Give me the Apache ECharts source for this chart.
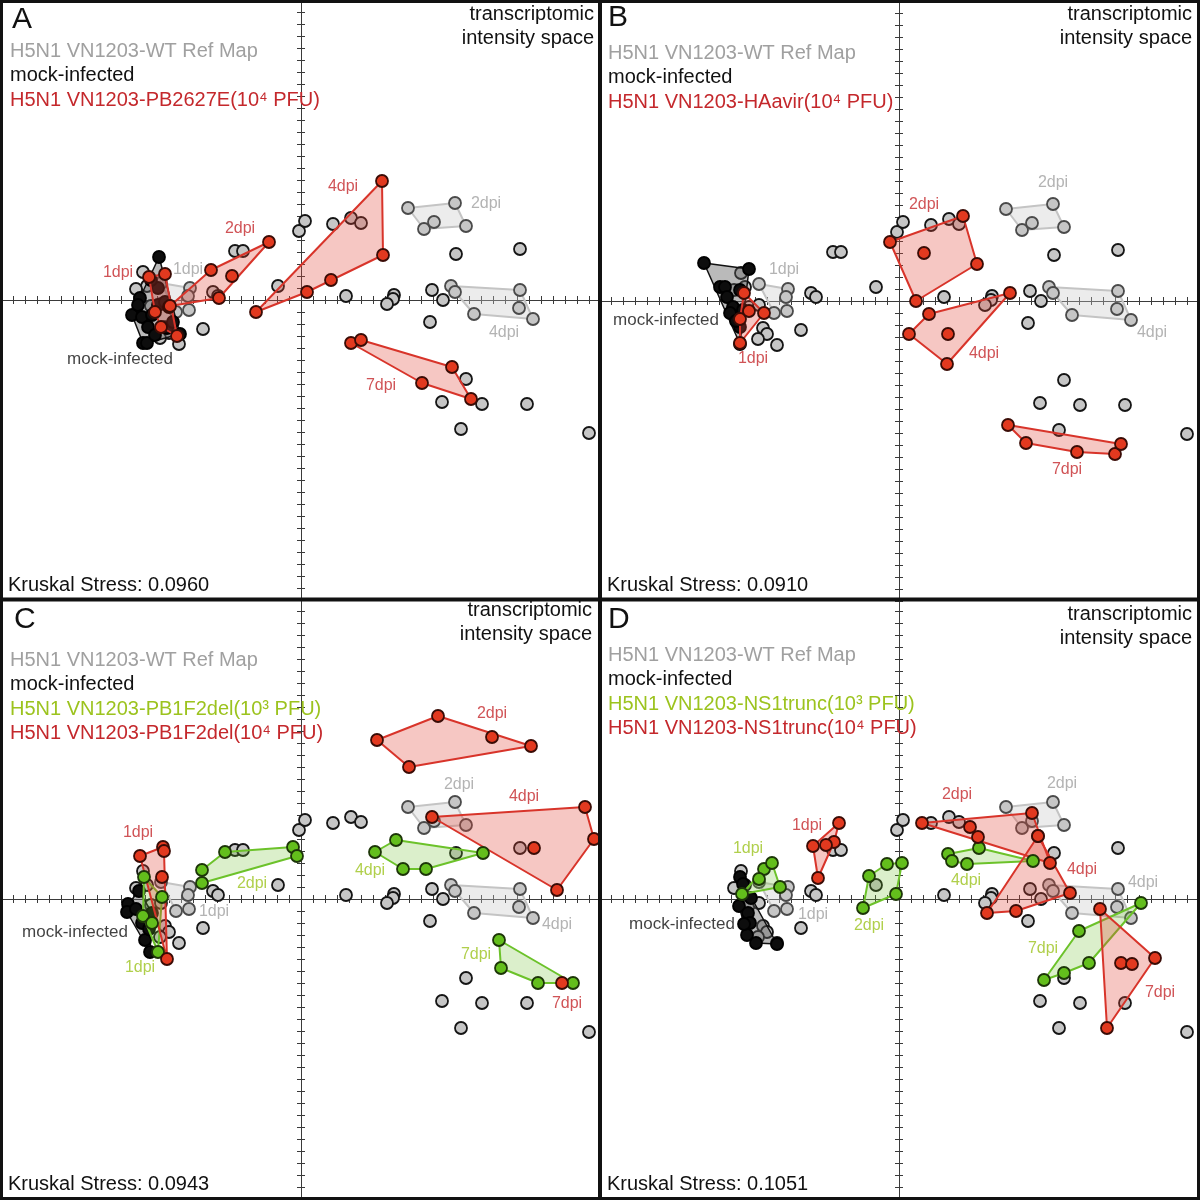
<!DOCTYPE html>
<html><head><meta charset="utf-8">
<script src="https://cdn.jsdelivr.net/npm/echarts@6/dist/echarts.min.js"></script>
<style>html,body{margin:0;padding:0;background:#fff}#c{width:1200px;height:1200px}</style>
</head><body><div id="c"></div>
<script>
// ---- Reference map (H5N1 VN1203-WT), shared by all panels ----
const ref1dpi = [[-140,17],[-111,12],[-113,4],[-112,-10],[-125,-12]];
const ref2dpi = [[107,92],[154,97],[165,74],[123,71],[133,78]];
const ref4dpi = [[150,14],[154,8],[219,10],[232,-19],[173,-14],[218,-8]];
const refOther = [[-158,28],[-154,14],[-165,11],[-150,-6],[-140,-4],[-136,-27],[-132,-33],[-141,-38],[-122,-44],[-98,-29],[-88,8],[-83,4],[-66,49],[-58,49],[-23,14],[-2,69],[4,79],[32,76],[50,82],[60,77],[155,46],[219,51],[45,4],[93,5],[92,1],[86,-4],[131,10],[142,0],[129,-22],[165,-79],[141,-102],[181,-104],[226,-104],[160,-129],[288,-133]];

// ---- Panel A ----
const mockA = [[-142,43],[-161,2],[-169,-15],[-159,-17],[-149,-15],[-153,-27],[-158,-43],[-154,-43],[-134,-28],[-121,-34],[-143,12],[-143,-5],[-150,20],[-136,-2],[-163,-5],[-146,-35],[-128,-22]];
const redA1 = [[-152,23],[-136,26],[-132,-7],[-124,-36],[-140,-27],[-146,-12]];
const redA2 = [[-131,-6],[-90,30],[-32,58],[-69,24],[-82,2]];
const redA4 = [[-45,-12],[6,8],[30,20],[82,45],[81,119]];
const redA7 = [[50,-43],[60,-40],[151,-67],[170,-99],[121,-83]];

// ---- Panel B ----
const mockB = [[-195,38],[-150,32],[-159,-43],[-179,14],[-174,14],[-172,4],[-166,-6],[-169,-12],[-159,11],[-156,-9],[-159,-26],[-163,-20]];
const redB1 = [[-155,8],[-135,-12],[-159,-42],[-159,-18],[-150,-10]];
const redB2 = [[-9,59],[64,85],[78,37],[17,0],[25,48]];
const redB4 = [[111,8],[30,-13],[10,-33],[48,-63],[49,-33]];
const redB7 = [[109,-124],[127,-142],[178,-151],[216,-153],[222,-143]];

// ---- Panel C ----
const mockC = [[-173,-5],[-174,-13],[-159,-24],[-156,-41],[-151,-53],[-149,-14],[-162,8],[-152,-30],[-165,-10]];
const redC1 = [[-161,43],[-138,52],[-137,48],[-139,22],[-134,-60]];
const greenC1 = [[-157,22],[-139,2],[-158,-17],[-149,-24],[-143,-53]];
const greenC2 = [[-99,29],[-99,16],[-76,47],[-8,52],[-4,43]];
const redC2 = [[76,159],[137,183],[191,162],[230,153],[108,132]];
const redC4 = [[131,82],[284,92],[293,60],[256,9],[233,51]];
const greenC4 = [[74,47],[95,59],[182,46],[125,30],[102,30]];
const greenC7 = [[198,-41],[200,-69],[237,-84],[272,-84]];
const redC7 = [[261,-84]];

// ---- Panel D ----
const mockD = [[-159,22],[-156,15],[-148,1],[-160,-7],[-151,-14],[-149,-24],[-152,-36],[-143,-44],[-122,-45],[-155,-25]];
const greenD1 = [[-135,30],[-127,36],[-119,12],[-157,5],[-140,20]];
const redD1 = [[-60,76],[-86,53],[-65,57],[-73,54],[-81,21]];
const greenD2 = [[-30,23],[-12,35],[3,36],[-3,5],[-36,-9]];
const redD2 = [[23,76],[133,86],[139,63],[151,36],[79,62],[71,72]];
const redD4 = [[139,63],[171,6],[117,-12],[88,-14]];
const greenD4 = [[49,45],[80,51],[134,38],[68,35],[53,38]];
const redD7 = [[201,-10],[256,-59],[208,-129],[222,-64],[233,-65]];
const greenD7 = [[242,-4],[180,-32],[190,-64],[165,-74],[145,-81]];

// ---- annotation texts ----
const labelsA = [['1dpi',-183,27,'r'],['1dpi',-113,30,'g0'],['2dpi',-61,71,'r'],['4dpi',42,113,'r'],['2dpi',185,96,'g0'],['4dpi',203,-33,'g0'],['7dpi',80,-86,'r'],['mock-infected',-181,-59,'k']];
const labelsB = [['mock-infected',-233,-19,'k'],['1dpi',-115,31,'g0'],['1dpi',-146,-58,'r'],['2dpi',25,96,'r'],['2dpi',154,118,'g0'],['4dpi',85,-53,'r'],['4dpi',253,-32,'g0'],['7dpi',168,-169,'r']];
const labelsC = [['1dpi',-163,66,'r'],['1dpi',-161,-69,'gr'],['1dpi',-87,-13,'g0'],['2dpi',-49,15,'gr'],['mock-infected',-226,-33,'k'],['2dpi',191,185,'r'],['2dpi',158,114,'g0'],['4dpi',223,102,'r'],['4dpi',69,28,'gr'],['4dpi',256,-26,'g0'],['7dpi',175,-56,'gr'],['7dpi',266,-105,'r']];
const labelsD = [['1dpi',-151,50,'gr'],['1dpi',-92,73,'r'],['1dpi',-86,-16,'g0'],['2dpi',-30,-27,'gr'],['mock-infected',-217,-25,'k'],['2dpi',58,104,'r'],['2dpi',163,115,'g0'],['4dpi',183,29,'r'],['4dpi',67,18,'gr'],['4dpi',244,16,'g0'],['7dpi',144,-50,'gr'],['7dpi',261,-94,'r']];

const legendA = [['H5N1 VN1203-WT Ref Map','g0'],['mock-infected','k'],['H5N1 VN1203-PB2627E(10⁴ PFU)','r']];
const legendB = [['H5N1 VN1203-WT Ref Map','g0'],['mock-infected','k'],['H5N1 VN1203-HAavir(10⁴ PFU)','r']];
const legendC = [['H5N1 VN1203-WT Ref Map','g0'],['mock-infected','k'],['H5N1 VN1203-PB1F2del(10³ PFU)','gr'],['H5N1 VN1203-PB1F2del(10⁴ PFU)','r']];
const legendD = [['H5N1 VN1203-WT Ref Map','g0'],['mock-infected','k'],['H5N1 VN1203-NS1trunc(10³ PFU)','gr'],['H5N1 VN1203-NS1trunc(10⁴ PFU)','r']];

const FONT = '"Liberation Sans", Arial, Helvetica, sans-serif';
const TXT = {r:'#c4282c', g0:'#a0a0a0', gr:'#9cc31e', k:'#111'};
const STY = {
  r:  {fill:'#e2391f', border:'#3a0c06', hullStroke:'#d8342a', hullFill:'rgba(226,70,55,0.3)', w:2},
  gr: {fill:'#63be1c', border:'#1d3608', hullStroke:'#6cc22a', hullFill:'rgba(112,192,48,0.25)', w:2},
  g0: {fill:'#c6c6c6', border:'#444', hullStroke:'#c4c4c4', hullFill:'rgba(200,200,200,0.35)', w:2},
  k:  {fill:'#0d0d0d', border:'#000', hullStroke:'#111', hullFill:'rgba(90,90,90,0.42)', w:1.5}
};

const panels = [
  {left:1, top:0, letter:'A', letterPos:[12,20], stress:'0.0960', stressPos:[8,585], legend:legendA, legTop:51, rt:[594,14], labels:labelsA, mock:mockA,
   groups:[[redA1,'r'],[redA2,'r'],[redA4,'r'],[redA7,'r']]},
  {left:599, top:1, letter:'B', letterPos:[608,18], stress:'0.0910', stressPos:[607,585], legend:legendB, legTop:53, rt:[1192,14], labels:labelsB, mock:mockB,
   groups:[[redB1,'r'],[redB2,'r'],[redB4,'r'],[redB7,'r']]},
  {left:1, top:599, letter:'C', letterPos:[14,620], stress:'0.0943', stressPos:[8,1184], legend:legendC, legTop:660, rt:[592,610], labels:labelsC, mock:mockC,
   groups:[[greenC1,'gr'],[greenC2,'gr'],[greenC4,'gr'],[greenC7,'gr'],[redC1,'r'],[redC2,'r'],[redC4,'r'],[redC7,'r']]},
  {left:599, top:599, letter:'D', letterPos:[608,620], stress:'0.1051', stressPos:[607,1184], legend:legendD, legTop:655, rt:[1192,614], labels:labelsD, mock:mockD,
   groups:[[greenD1,'gr'],[greenD2,'gr'],[greenD4,'gr'],[greenD7,'gr'],[redD1,'r'],[redD2,'r'],[redD4,'r'],[redD7,'r']]}
];

function hull(pts){
  const p = pts.slice().sort((a,b)=>a[0]-b[0]||a[1]-b[1]);
  if (p.length < 3) return p;
  const cross=(o,a,b)=>(a[0]-o[0])*(b[1]-o[1])-(a[1]-o[1])*(b[0]-o[0]);
  const lo=[],up=[];
  for (const q of p){ while(lo.length>=2&&cross(lo[lo.length-2],lo[lo.length-1],q)<=0) lo.pop(); lo.push(q); }
  for (let i=p.length-1;i>=0;i--){ const q=p[i]; while(up.length>=2&&cross(up[up.length-2],up[up.length-1],q)<=0) up.pop(); up.push(q); }
  up.pop(); lo.pop(); return lo.concat(up);
}

const grid=[], xAxis=[], yAxis=[], series=[], graphic=[];
function axisDef(gi, inside, pos){
  return {gridIndex:gi, type:'value', min:-300, max:300, interval:12, position:pos,
    axisLine:{show:true, onZero:true, lineStyle:{color:'#3a3a3a', width:1}},
    axisTick:{show:true, inside:inside, length:4, lineStyle:{color:'#3a3a3a', width:1}},
    axisLabel:{show:false}, splitLine:{show:false}};
}
function hullSeries(gi, pts, key, z){
  const s = STY[key];
  return {type:'custom', xAxisIndex:gi*2, yAxisIndex:gi*2, silent:true, animation:false, z:z,
    data:[pts[0]],
    renderItem:function(params, api){
      const h = hull(pts).map(p=>api.coord(p));
      return {type:'polygon', shape:{points:h}, style:{fill:s.hullFill, stroke:s.hullStroke, lineWidth:s.w, lineJoin:'round'}};
    }};
}
function pointSeries(gi, pts, key, z, border){
  const s = STY[key];
  return {type:'scatter', xAxisIndex:gi*2, yAxisIndex:gi*2, silent:true, animation:false, z:z,
    data:pts, symbolSize:12,
    itemStyle:{color:s.fill, borderColor:border||s.border, borderWidth:1.8, opacity:1}};
}

panels.forEach((p, gi)=>{
  grid.push({left:p.left, top:p.top, width:600, height:600, show:false});
  xAxis.push(axisDef(gi,false,'bottom'), axisDef(gi,true,'bottom'));
  yAxis.push(axisDef(gi,false,'left'), axisDef(gi,true,'left'));
  [ref1dpi, ref2dpi, ref4dpi].forEach(g=>series.push(hullSeries(gi,g,'g0',1)));
  series.push(pointSeries(gi, refOther, 'g0', 2, '#151515'));
  [ref1dpi, ref2dpi, ref4dpi].forEach(g=>series.push(pointSeries(gi,g,'g0',2,'#4a4a4a')));
  series.push(hullSeries(gi, p.mock, 'k', 3));
  series.push(pointSeries(gi, p.mock, 'k', 4));
  p.groups.forEach(g=>series.push(hullSeries(gi, g[0], g[1], 5)));
  p.groups.forEach(g=>series.push(pointSeries(gi, g[0], g[1], 6)));
  series.push({type:'scatter', xAxisIndex:gi*2, yAxisIndex:gi*2, silent:true, animation:false, z:7,
    symbolSize:1, itemStyle:{color:'rgba(0,0,0,0)'},
    data:p.labels.map(l=>({value:[l[1],l[2]], name:l[0],
      label:{color:TXT[l[3]], fontSize: l[0]==='mock-infected'?17:16}})),
    label:{show:true, position:'inside', formatter:'{b}', fontFamily:FONT}});
  graphic.push({type:'text', z:20, style:{x:p.letterPos[0], y:p.letterPos[1], text:p.letter, font:'30px '+FONT, fill:'#111', textVerticalAlign:'middle'}});
  p.legend.forEach((l,i)=>graphic.push({type:'text', z:20, style:{x:p.left+9, y:p.legTop+i*24.6, text:l[0], font:'20px '+FONT, fill:TXT[l[1]], textVerticalAlign:'middle'}}));
  graphic.push({type:'text', z:20, style:{x:p.rt[0], y:p.rt[1], text:'transcriptomic', font:'20px '+FONT, fill:'#111', textAlign:'right', textVerticalAlign:'middle'}});
  graphic.push({type:'text', z:20, style:{x:p.rt[0], y:p.rt[1]+24.5, text:'intensity space', font:'20px '+FONT, fill:'#111', textAlign:'right', textVerticalAlign:'middle'}});
  graphic.push({type:'text', z:20, style:{x:p.stressPos[0], y:p.stressPos[1], text:'Kruskal Stress: '+p.stress, font:'20px '+FONT, fill:'#111', textVerticalAlign:'middle'}});
});
graphic.push({type:'rect', z:30, silent:true, shape:{x:0,y:0,width:1200,height:1200}, style:{fill:'none', stroke:'#111', lineWidth:6}});
graphic.push({type:'line', z:30, silent:true, shape:{x1:600,y1:0,x2:600,y2:1200}, style:{stroke:'#111', lineWidth:4}});
graphic.push({type:'line', z:30, silent:true, shape:{x1:0,y1:599.5,x2:1200,y2:599.5}, style:{stroke:'#111', lineWidth:4}});

const chart = echarts.init(document.getElementById('c'), null, {renderer:'canvas'});
chart.setOption({backgroundColor:'#fff', animation:false, grid, xAxis, yAxis, series, graphic});
</script></body></html>
